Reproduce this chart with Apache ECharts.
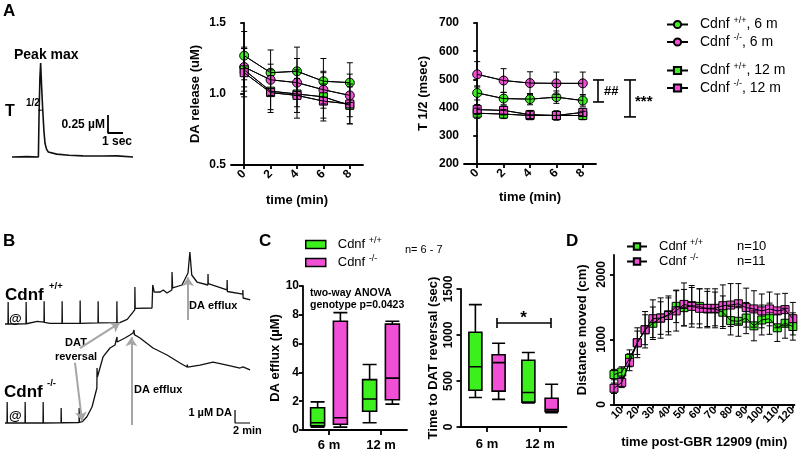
<!DOCTYPE html>
<html><head><meta charset="utf-8">
<script src="https://cdn.jsdelivr.net/npm/echarts@6/dist/echarts.min.js"></script>
<style>html,body{margin:0;padding:0;background:#fff}#c{width:800px;height:455px}</style>
</head><body><div id="c"></div>
<script>
// ================= DATA =================
// Panel A (left): evoked release trace  [time s, DA µM]
const peakTrace = [[0,0],[1.0,0.005],[1.76,0],[1.8,0.55],[1.86,1.1],[1.91,1.305],[1.97,1.0],[2.05,0.65],[2.13,0.36],[2.2,0.19],[2.3,0.11],[2.42,0.07],[2.98,0.04],[3.8,0.025],[4.73,0.015],[6.0,0.013],[7.0,0.015],[8.07,0]];
const peakScaleBar = [[6.4,0.583],[6.4,0.333],[7.4,0.333]];   // 0.25 µM / 1 sec
const halfMark = [[1.74,0.65],[2.02,0.65]];

// Panel A (middle / right)
const timeA = [0,2,4,6,8];
const releaseWT6 = [1.27,1.15,1.16,1.09,1.08];
const releaseWT6Err = [0.17,0.16,0.17,0.16,0.14];
const releaseKO6 = [1.19,1.10,1.08,1.03,0.99];
const releaseKO6Err = [0.14,0.11,0.17,0.13,0.15];
const releaseWT12 = [1.17,1.02,1.00,0.98,0.92];
const releaseWT12Err = [0.15,0.15,0.17,0.17,0.13];
const releaseKO12 = [1.15,1.01,0.99,0.95,0.93];
const releaseKO12Err = [0.17,0.12,0.12,0.12,0.14];
const halfWT6 = [452,432,430,437,425];
const halfWT6Err = [25,22,20,22,20];
const halfKO6 = [518,496,487,486,486];
const halfKO6Err = [45,42,40,40,40];
const halfWT12 = [380,377,372,372,372];
const halfWT12Err = [18,16,15,16,15];
const halfKO12 = [393,390,375,372,383];
const halfKO12Err = [18,16,15,16,15];

// Panel B traces [time min, DA µM above baseline]
const traceWT = [[0,0],[0.4,0],[0.42,1.7],[0.45,0],[2.8,0.02],[2.82,1.7],[2.85,0.02],[4.3,0.2],[5.2,0.15],[5.22,1.75],[5.25,0.12],[6,0.05],[7.6,0.05],[7.62,1.75],[7.65,0.05],[10,0.05],[10.02,1.8],[10.05,0.05],[12.4,0.08],[12.42,1.75],[12.45,0.08],[14.9,0.1],[14.92,1.75],[14.95,0.1],[15.3,0.1],[16.3,0.35],[17.3,1.08],[17.32,2.85],[17.36,1.2],[17.6,1.23],[19.6,1.23],[19.7,3.0],[19.9,2.45],[20.7,2.46],[21.1,2.62],[21.6,2.38],[22.25,2.62],[22.27,4.0],[22.35,2.77],[23.6,3.0],[24.4,3.92],[24.65,5.54],[24.9,3.77],[25.6,3.23],[27.05,3.0],[27.07,3.85],[27.1,3.1],[29.6,2.62],[29.62,3.38],[29.65,2.5],[31.7,2.3],[31.72,2.62],[31.75,2.0],[32.7,1.85]];
const traceKO = [[0,0],[0.27,0],[0.29,1.62],[0.32,0],[2.67,0],[2.69,1.62],[2.72,0],[5.07,0],[5.09,1.62],[5.12,0],[7.47,0.02],[7.49,1.15],[7.52,0.02],[9.87,0.03],[9.89,1.15],[9.92,0.05],[10.3,0.1],[10.9,0.46],[11.6,1.23],[12.25,2.69],[12.27,4.23],[12.32,3.54],[13.07,5.08],[14,5.77],[14.67,6.0],[14.9,6.1],[14.93,6.62],[14.96,6.23],[16,6.54],[16.67,6.77],[17.07,6.92],[17.2,7.15],[17.25,6.8],[18,6.54],[19.73,5.77],[21.6,5.23],[23.33,4.62],[24.27,4.31],[24.3,4.5],[24.35,4.3],[26,4.46],[27.73,4.69],[29.6,4.46],[31.33,4.23],[31.73,4.31],[32.67,4.08]];
const traceScaleBar = [[30.67,1],[30.67,0],[32.67,0]];   // 1 µM DA / 2 min
const arrowsWT = [[[10,-1.85],[15.3,0.08]],[[24.4,0.31],[24.4,3.6]]];
const arrowsKO = [[[9.33,4.65],[10.27,0.15]],[[16.85,-0.15],[16.85,6.6]]];

// Panel C  box data [min, Q1, median, Q3, max]
const ageCats = ['6 m','12 m'];
const effluxWT = [[0.2,0.3,0.5,1.55,1.95],[0.5,1.3,2.15,3.5,4.55]];
const effluxKO = [[0.2,0.4,0.85,7.55,8.15],[1.8,2.1,3.6,7.35,7.55]];
const reversalWT = [[320,400,655,1030,1330],[262,270,375,725,810]];
const reversalKO = [[300,390,700,785,910],[155,170,190,312,465]];

// Panel D
const timeD = [5,10,15,20,25,30,35,40,45,50,55,60,65,70,75,80,85,90,95,100,105,110,115,120];
const distWT = [460,500,710,950,1150,1250,1330,1380,1510,1490,1520,1510,1470,1470,1420,1290,1280,1330,1210,1300,1320,1180,1250,1200];
const distWTErr = [80,80,130,180,230,250,250,260,250,280,280,270,270,260,250,220,230,240,230,230,240,210,230,210];
const distKO = [250,340,650,950,1150,1320,1330,1370,1440,1540,1510,1480,1480,1480,1520,1530,1550,1490,1470,1440,1470,1440,1460,1320];
const distKOErr = [80,80,130,230,280,290,310,300,310,330,320,300,300,300,320,330,310,300,280,260,260,260,250,250];
const timeDTicks = [10,20,30,40,50,60,70,80,90,100,110,120];

// ================= STYLE =================
const FONT = "'Liberation Sans', Arial, Helvetica, sans-serif";
const GREEN = '#3cf01e';
const MAGENTA = '#f04fd6';
const AXC = '#000';

function errRender(params, api) {
  const x = api.value(0), y = api.value(1), e = api.value(2);
  const hi = api.coord([x, y + e]), lo = api.coord([x, y - e]);
  const w = 3, st = {stroke: '#000', lineWidth: 1};
  return {type: 'group', children: [
    {type: 'line', shape: {x1: hi[0], y1: hi[1], x2: lo[0], y2: lo[1]}, style: st},
    {type: 'line', shape: {x1: hi[0]-w, y1: hi[1], x2: hi[0]+w, y2: hi[1]}, style: st},
    {type: 'line', shape: {x1: lo[0]-w, y1: lo[1], x2: lo[0]+w, y2: lo[1]}, style: st}
  ]};
}

function group(name, xs, ys, errs, color, symbol, size, ai) {
  const pts = xs.map((x, i) => [x, ys[i]]);
  return [
    {type: 'line', name, xAxisIndex: ai, yAxisIndex: ai, data: pts, clip: false,
     symbol, symbolSize: size, showSymbol: true, z: 2,
     itemStyle: {color, borderColor: '#000', borderWidth: 1},
     lineStyle: {color: '#000', width: 1}},
    {type: 'custom', name: name + ' err', xAxisIndex: ai, yAxisIndex: ai, z: 3,
     data: xs.map((x, i) => [x, ys[i], errs[i]]), encode: {x: 0, y: 1},
     renderItem: errRender, silent: true},
    {type: 'line', name: name + ' ov', xAxisIndex: ai, yAxisIndex: ai, data: pts, clip: false,
     showSymbol: false, symbol: 'none', z: 4, silent: true,
     lineStyle: {color: '#000', width: 1}}
  ];
}

function axBase() {
  return {
    axisLine: {show: true, lineStyle: {color: AXC, width: 1.8}},
    axisTick: {show: true, length: 4, lineStyle: {color: AXC, width: 1.8}},
    axisLabel: {color: '#000', fontSize: 12, fontWeight: 'bold', fontFamily: FONT, formatter: v => String(v),
                showMinLabel: true, showMaxLabel: true, hideOverlap: false},
    splitLine: {show: false},
    nameLocation: 'middle',
    nameTextStyle: {color: '#000', fontSize: 13, fontWeight: 'bold', fontFamily: FONT}
  };
}
function ax(extra) {
  const a = axBase(), r = Object.assign({}, a);
  for (const k in extra) r[k] = (typeof extra[k] === 'object' && !Array.isArray(extra[k]) && a[k]) ? Object.assign({}, a[k], extra[k]) : extra[k];
  return r;
}
const hidden = (g, min, max) => ({gridIndex: g, type: 'value', min, max, show: false});

const grids = [
  {left: 12, top: 52.6, width: 121.5, height: 108},   // 0 A trace
  {left: 231, top: 23, width: 132, height: 142},      // 1 A release
  {left: 464, top: 23, width: 132, height: 141},      // 2 A T1/2
  {left: 5, top: 239.5, width: 262.5, height: 123.5}, // 3 B +/+
  {left: 5, top: 325.5, width: 262.5, height: 104},   // 4 B -/-
  {left: 303, top: 286, width: 104, height: 144},     // 5 C efflux
  {left: 460.5, top: 289, width: 106, height: 138},   // 6 C reversal
  {left: 614, top: 255, width: 180.4, height: 149.5}  // 7 D
];

const xAxis = [
  hidden(0, 0, 8.1),
  ax({gridIndex: 1, type: 'value', min: -1, max: 9, name: 'time (min)', nameGap: 29,
      axisTick: {customValues: timeA}, axisLabel: {customValues: timeA, rotate: 45, margin: 7}}),
  ax({gridIndex: 2, type: 'value', min: -1, max: 9, name: 'time (min)', nameGap: 27,
      axisTick: {customValues: timeA}, axisLabel: {customValues: timeA, rotate: 45, margin: 7}}),
  hidden(3, 0, 35),
  hidden(4, 0, 35),
  ax({gridIndex: 5, type: 'category', data: ageCats, axisTick: {alignWithLabel: true, length: 5},
      axisLabel: {margin: 9, fontSize: 13}}),
  ax({gridIndex: 6, type: 'category', data: ageCats, axisTick: {alignWithLabel: true, length: 5},
      axisLabel: {margin: 11, fontSize: 13}}),
  ax({gridIndex: 7, type: 'value', min: 5, max: 121, name: 'time post-GBR 12909 (min)', nameGap: 31,
      axisTick: {customValues: timeDTicks},
      axisLabel: {customValues: timeDTicks, rotate: 45, margin: 4, fontSize: 11}})
];
const yAxis = [
  hidden(0, -0.05, 1.45),
  ax({gridIndex: 1, type: 'value', min: 0.5, max: 1.5, interval: 0.5, name: 'DA release (uM)', nameGap: 29,
      axisLabel: {formatter: v => v.toFixed(1), margin: 5}}),
  ax({gridIndex: 2, type: 'value', min: 200, max: 700, interval: 100, name: 'T 1/2 (msec)', nameGap: 34,
      axisLabel: {margin: 5}}),
  hidden(3, -3, 6.5),
  hidden(4, -0.5, 7.5),
  ax({gridIndex: 5, type: 'value', min: 0, max: 10, interval: 2, name: 'DA efflux (µM)', nameGap: 14,
      axisLabel: {margin: 4}}),
  ax({gridIndex: 6, type: 'value', min: 0, max: 1500, interval: 500, name: 'Time to DAT reversal (sec)', nameGap: 21,
      axisLabel: {rotate: 90, margin: 6}}),
  ax({gridIndex: 7, type: 'value', min: 0, max: 2300, name: 'Distance moved (cm)', nameGap: 25,
      axisTick: {customValues: [0,1000,2000]}, axisLabel: {customValues: [0,1000,2000], rotate: 90, margin: 6}})
];

const arrowML = (arr) => ({
  silent: true, animation: false, symbol: ['none', 'arrow'], symbolSize: 9,
  label: {show: false},
  lineStyle: {color: '#a6a6a6', width: 2, type: 'solid'},
  data: arr.map(a => [{coord: a[0]}, {coord: a[1]}])
});

const traceLine = (data, ai, extra) => Object.assign({
  type: 'line', xAxisIndex: ai, yAxisIndex: ai, data, showSymbol: false, symbol: 'none',
  clip: false, silent: true, lineStyle: {color: '#111', width: 1.3}
}, extra || {});

const series = [
  traceLine(peakTrace, 0, {lineStyle: {color: '#111', width: 1.6}}),
  traceLine(peakScaleBar, 0, {lineStyle: {color: '#000', width: 1.8}}),
  traceLine(halfMark, 0, {lineStyle: {color: '#000', width: 1}}),
  traceLine(traceWT, 3, {markLine: arrowML(arrowsWT)}),
  traceLine(traceKO, 4, {markLine: arrowML(arrowsKO)}),
  traceLine(traceScaleBar, 4, {lineStyle: {color: '#000', width: 1.2}}),
  ...group('Cdnf +/+, 6 m', timeA, releaseWT6, releaseWT6Err, GREEN, 'circle', 9, 1),
  ...group('Cdnf -/-, 6 m', timeA, releaseKO6, releaseKO6Err, MAGENTA, 'circle', 9, 1),
  ...group('Cdnf +/+, 12 m', timeA, releaseWT12, releaseWT12Err, GREEN, 'rect', 8, 1),
  ...group('Cdnf -/-, 12 m', timeA, releaseKO12, releaseKO12Err, MAGENTA, 'rect', 8, 1),
  ...group('Cdnf +/+, 6 m', timeA, halfWT6, halfWT6Err, GREEN, 'circle', 9, 2),
  ...group('Cdnf -/-, 6 m', timeA, halfKO6, halfKO6Err, MAGENTA, 'circle', 9, 2),
  ...group('Cdnf +/+, 12 m', timeA, halfWT12, halfWT12Err, GREEN, 'rect', 8, 2),
  ...group('Cdnf -/-, 12 m', timeA, halfKO12, halfKO12Err, MAGENTA, 'rect', 8, 2),
  {type: 'boxplot', name: 'Cdnf +/+', xAxisIndex: 5, yAxisIndex: 5, data: effluxWT, boxWidth: [14, 14],
   itemStyle: {color: GREEN, borderColor: '#000', borderWidth: 1.6}, silent: true},
  {type: 'boxplot', name: 'Cdnf -/-', xAxisIndex: 5, yAxisIndex: 5, data: effluxKO, boxWidth: [14, 14],
   itemStyle: {color: MAGENTA, borderColor: '#000', borderWidth: 1.6}, silent: true},
  {type: 'boxplot', name: 'Cdnf +/+', xAxisIndex: 6, yAxisIndex: 6, data: reversalWT, boxWidth: [13, 13],
   itemStyle: {color: GREEN, borderColor: '#000', borderWidth: 1.6}, silent: true},
  {type: 'boxplot', name: 'Cdnf -/-', xAxisIndex: 6, yAxisIndex: 6, data: reversalKO, boxWidth: [13, 13],
   itemStyle: {color: MAGENTA, borderColor: '#000', borderWidth: 1.6}, silent: true},
  ...group('Cdnf +/+ n=10', timeD, distWT, distWTErr, GREEN, 'rect', 8, 7),
  ...group('Cdnf -/- n=11', timeD, distKO, distKOErr, MAGENTA, 'rect', 8, 7)
];

const richBase = {
  g: {width: 7},
  s: {fontSize: 9, fontFamily: FONT, color: '#000', padding: [0, 0, 8, 0]}
};
const supFmt = name => '{g|}' + name.replace(/(\+\/\+|-\/-)/, '{s|$1}');

const legendBase = {orient: 'vertical', selectedMode: false, padding: 0, itemGap: 2,
  textStyle: {color: '#000', fontFamily: FONT, fontSize: 14, rich: richBase}};
const legend = [
  Object.assign({}, legendBase, {data: ['Cdnf +/+, 6 m', 'Cdnf -/-, 6 m'], left: 666, top: 16,
    itemWidth: 21, itemHeight: 9, formatter: supFmt}),
  Object.assign({}, legendBase, {data: ['Cdnf +/+, 12 m', 'Cdnf -/-, 12 m'], left: 666, top: 62,
    itemWidth: 21, itemHeight: 9, formatter: supFmt}),
  Object.assign({}, legendBase, {
    data: [{name: 'Cdnf +/+', itemStyle: {color: GREEN}}, {name: 'Cdnf -/-', itemStyle: {color: MAGENTA}}],
    left: 305, top: 236, itemGap: 3,
    itemWidth: 20, itemHeight: 8, icon: 'rect', itemStyle: {borderColor: '#000', borderWidth: 1.5},
    textStyle: {color: '#000', fontFamily: FONT, fontSize: 13, rich: richBase}, formatter: supFmt}),
  Object.assign({}, legendBase, {data: ['Cdnf +/+ n=10', 'Cdnf -/- n=11'], left: 626, top: 238, itemGap: 0,
    itemWidth: 20, itemHeight: 8,
    textStyle: {color: '#000', fontFamily: FONT, fontSize: 13,
      rich: {g: {width: 7},
             s: {fontSize: 9, fontFamily: FONT, color: '#000', width: 47, padding: [0, 0, 8, 0]},
             n: {fontSize: 13, fontFamily: FONT, color: '#000'}}},
    formatter: name => name.replace(/^Cdnf (\S+) (n=\d+)$/, '{g|}Cdnf {s|$1}{n|$2}')})
];

const chart = echarts.init(document.getElementById('c'));
chart.setOption({animation: false, backgroundColor: '#fff', grid: grids, xAxis, yAxis, series, legend});

// ================= ANNOTATIONS =================
const el = [];
function T(text, x, y, size, bold, align) {
  el.push({type: 'text', x, y, silent: true, style: {text, fill: '#000',
    font: (bold ? 'bold ' : '') + size + 'px ' + FONT, align: align || 'left', verticalAlign: 'middle'}});
}
function L(x1, y1, x2, y2, w) {
  el.push({type: 'line', silent: true, shape: {x1, y1, x2, y2}, style: {stroke: '#000', lineWidth: w || 1.6}});
}
T('A', 3, 11, 17, true);
T('Peak max', 14, 55, 14, true);
T('T', 5, 112, 16, true);
T('1/2', 26, 103, 10, true);
T('0.25 µM', 105, 125, 12, true, 'right');
T('1 sec', 102, 142, 12, true);
T('B', 3, 241, 17, true);
T('Cdnf', 5, 295, 17, true);
T('+/+', 49, 286, 9.5, true);
T('@', 9, 319, 13, true);
T('DAT', 76, 343, 11, true, 'center');
T('reversal', 76, 357, 11, true, 'center');
T('DA efflux', 189, 306, 11, true);
T('Cdnf', 4, 392, 17, true);
T('-/-', 47, 383, 9.5, true);
T('@', 9, 416, 13, true);
T('DA efflux', 134, 390, 11, true);
T('1 µM DA', 232, 413, 11, true, 'right');
T('2 min', 233, 431, 11, true);
T('C', 259, 241, 17, true);
T('n= 6 - 7', 405, 250, 11, false);
T('two-way ANOVA', 310, 293, 10.5, true);
T('genotype p=0.0423', 310, 305, 10.5, true);
T('D', 566, 241, 17, true);

// significance brackets on T1/2 panel
const yOf = (g, v) => chart.convertToPixel({gridIndex: g}, [0, v])[1];
const b1 = [yOf(2, 498), yOf(2, 420)], b2 = [yOf(2, 498), yOf(2, 367)];
L(598, b1[0], 598, b1[1]); L(593, b1[0], 604, b1[0]); L(593, b1[1], 604, b1[1]);
T('##', 604, (b1[0] + b1[1]) / 2, 13, true);
L(630, b2[0], 630, b2[1]); L(624, b2[0], 636, b2[0]); L(624, b2[1], 636, b2[1]);
T('***', 635, (b2[0] + b2[1]) / 2 + 3, 15, true);

// significance bracket on reversal panel (between the two Cdnf -/- boxes)
const c0 = chart.convertToPixel({gridIndex: 6}, [0, 1130]);
const c1 = chart.convertToPixel({gridIndex: 6}, [1, 1130]);
L(c0[0] + 10, c0[1], c1[0] + 11, c1[1], 1.6);
L(c0[0] + 10, c0[1] - 5, c0[0] + 10, c0[1] + 5, 1.6);
L(c1[0] + 11, c1[1] - 5, c1[0] + 11, c1[1] + 5, 1.6);
T('*', (c0[0] + c1[0]) / 2 + 10, c0[1] - 5, 17, true, 'center');

chart.setOption({graphic: {elements: el}});
</script></body></html>
